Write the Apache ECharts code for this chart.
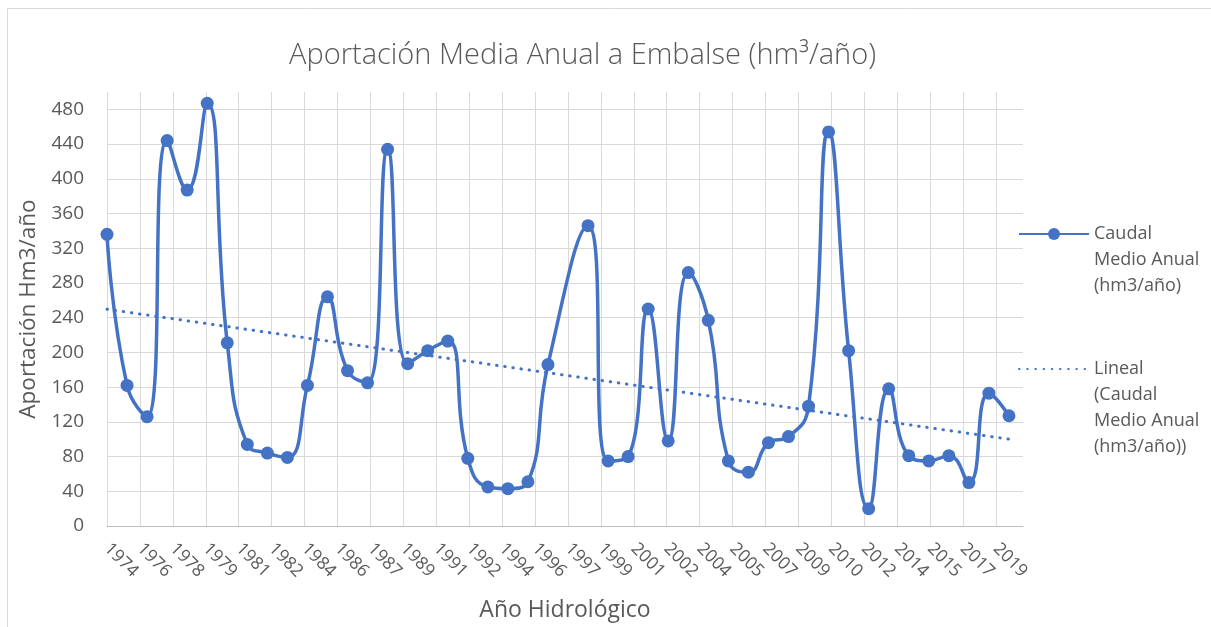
<!DOCTYPE html>
<html>
<head>
<meta charset="utf-8">
<script src="https://cdn.jsdelivr.net/npm/echarts@6/dist/echarts.min.js"></script>
<style>
  html, body { margin: 0; padding: 0; background: #ffffff; }
  #chart { width: 1211px; height: 627px; }
</style>
</head>
<body>
<div id="chart"></div>
<script>
// Hydrological years (starting each October) and mean annual inflow, hm3/year.
// 1997 has no record; the line is drawn across the gap.
const years = [
  1974, 1975, 1976, 1977, 1978, 1979, 1980, 1981, 1982, 1983,
  1984, 1985, 1986, 1987, 1988, 1989, 1990, 1991, 1992, 1993,
  1994, 1995, 1996, 1997, 1998, 1999, 2000, 2001, 2002, 2003,
  2004, 2005, 2006, 2007, 2008, 2009, 2010, 2011, 2012, 2013,
  2014, 2015, 2016, 2017, 2018, 2019
];
const caudal = [
  336, 162, 126, 444, 387, 487, 211, 94, 84, 79,
  162, 264, 179, 165, 434, 187, 202, 213, 78, 45,
  43, 51, 186, null, 346, 75, 80, 250, 98, 292,
  237, 75, 62, 96, 103, 138, 454, 202, 20, 158,
  81, 75, 81, 50, 153, 127
];
// Date-axis labels, one every 600 days from October 1974.
const tickLabels = [
  '1974', '1976', '1978', '1979', '1981', '1982', '1984', '1986', '1987', '1989',
  '1991', '1992', '1994', '1996', '1997', '1999', '2001', '2002', '2004', '2005',
  '2007', '2009', '2010', '2012', '2014', '2015', '2017', '2019'
];
const yTicks = [0, 40, 80, 120, 160, 200, 240, 280, 320, 360, 400, 440, 480];

const serieName = 'Caudal Medio Anual (hm3/año)';
const trendName = 'Lineal (Caudal Medio Anual (hm3/año))';
// Legend text wrapped over several lines; leading blank lines keep the
// first line level with the legend symbol.
const legendText = {};
legendText[serieName] = '\n\nCaudal\nMedio Anual\n(hm3/año)';
legendText[trendName] = '\n\n\nLineal\n(Caudal\nMedio Anual\n(hm3/año))';

// x is measured in years since the first hydrological year.
const points = years.map((y, i) => [y - years[0], caudal[i]]);

// Least-squares linear trend over the recorded years.
const known = points.filter(p => p[1] !== null);
const n = known.length;
const mx = known.reduce((s, p) => s + p[0], 0) / n;
const my = known.reduce((s, p) => s + p[1], 0) / n;
let sxy = 0, sxx = 0;
known.forEach(p => { sxy += (p[0] - mx) * (p[1] - my); sxx += (p[0] - mx) * (p[0] - mx); });
const slope = sxy / sxx;
const icpt = my - slope * mx;
const xFirst = known[0][0];
const xLast = known[n - 1][0];
const trend = [[xFirst, icpt + slope * xFirst], [xLast, icpt + slope * xLast]];

const tickStep = 600 / 365.25;
const blue = '#4472C4';
const grey = '#595959';
const font = "'Open Sans', 'Noto Sans', sans-serif";

const chart = echarts.init(document.getElementById('chart'));
chart.setOption({
  animation: false,
  backgroundColor: '#ffffff',
  textStyle: { fontFamily: font },
  graphic: [{
    type: 'rect',
    shape: { x: 7.5, y: 8.5, width: 1300, height: 700 },
    style: { fill: 'none', stroke: '#d9d9d9', lineWidth: 1 },
    silent: true
  }],
  title: {
    text: 'Aportación Media Anual a Embalse (hm³/año)',
    left: 284,
    top: 36,
    textStyle: { fontFamily: font, fontSize: 29, fontWeight: 300, color: grey }
  },
  legend: [{
    orient: 'vertical',
    left: 1018,
    top: 169,
    padding: 0,
    itemWidth: 70,
    itemHeight: 15,
    data: [serieName],
    formatter: name => legendText[name],
    textStyle: { fontFamily: font, fontSize: 18, lineHeight: 26, color: grey }
  }, {
    orient: 'vertical',
    left: 1018,
    top: 278,
    padding: 0,
    itemWidth: 70,
    itemHeight: 15,
    data: [{ name: trendName, itemStyle: { opacity: 0 } }],
    formatter: name => legendText[name],
    textStyle: { fontFamily: font, fontSize: 18, lineHeight: 26, color: grey }
  }],
  grid: { left: 107, top: 92, width: 916, height: 436, containLabel: false },
  xAxis: {
    type: 'value',
    min: 0,
    max: 45.7,
    interval: tickStep,
    name: 'Año Hidrológico',
    nameLocation: 'middle',
    nameGap: 73,
    nameTextStyle: { fontFamily: font, fontSize: 23, color: grey },
    axisLine: { show: true, lineStyle: { color: '#bfbfbf', width: 1 } },
    axisTick: { show: false },
    axisLabel: {
      rotate: -45,
      margin: 20,
      fontFamily: font,
      fontSize: 17.5,
      color: grey,
      showMaxLabel: false,
      formatter: v => {
        const k = Math.round(v / tickStep);
        return Math.abs(v - k * tickStep) < 1e-6 ? (tickLabels[k] || '') : '';
      }
    },
    splitLine: { show: true, showMaxLine: false, lineStyle: { color: '#d9d9d9', width: 1 } }
  },
  yAxis: {
    type: 'value',
    min: yTicks[0],
    max: 500,
    interval: yTicks[1] - yTicks[0],
    name: 'Aportación Hm3/año',
    nameLocation: 'middle',
    nameGap: 61,
    nameTextStyle: { fontFamily: font, fontSize: 22.5, color: grey },
    axisLine: { show: false },
    axisTick: { show: false },
    axisLabel: {
      margin: 23,
      fontFamily: font,
      fontSize: 19,
      color: grey,
      showMaxLabel: false,
      formatter: v => (yTicks.indexOf(v) >= 0 ? String(v) : '')
    },
    splitLine: { show: true, showMaxLine: false, lineStyle: { color: '#d9d9d9', width: 1 } }
  },
  series: [{
    name: serieName,
    type: 'line',
    data: points,
    smooth: 0.5,
    connectNulls: true,
    symbol: 'circle',
    symbolSize: 13,
    showAllSymbol: true,
    lineStyle: { color: blue, width: 3.5 },
    itemStyle: { color: blue },
    z: 2
  }, {
    name: trendName,
    type: 'line',
    data: trend,
    symbol: 'none',
    lineStyle: { color: blue, width: 3, type: [0.5, 7.7], cap: 'round' },
    itemStyle: { color: blue },
    z: 3
  }]
});
</script>
</body>
</html>
